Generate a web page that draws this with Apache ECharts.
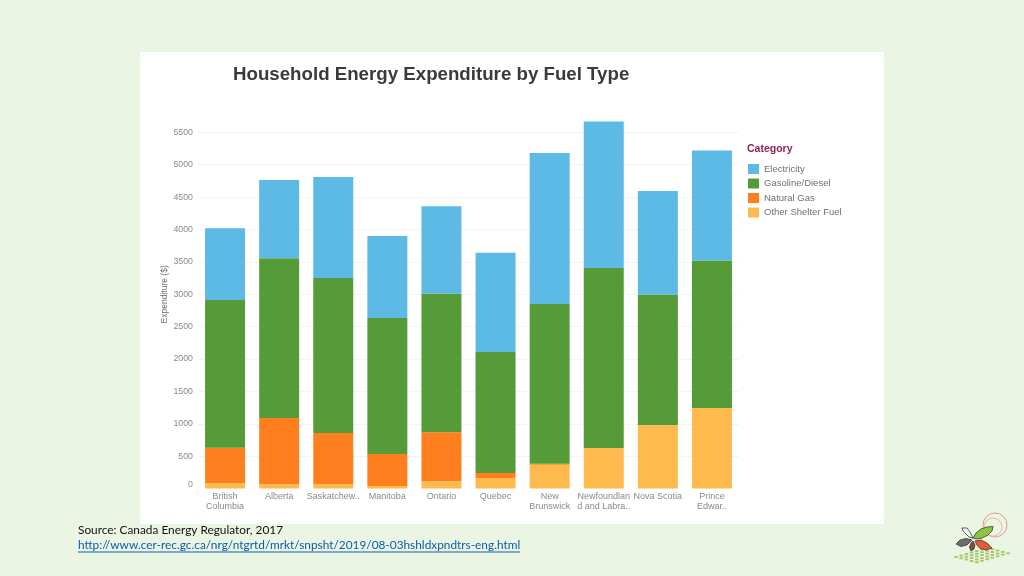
<!DOCTYPE html>
<html>
<head>
<meta charset="utf-8">
<title>Household Energy Expenditure by Fuel Type</title>
<style>
  html, body { margin: 0; padding: 0; background: #EBF5E3; }
  #main { width: 1024px; height: 576px; }
</style>
<script src="https://cdn.jsdelivr.net/npm/echarts@6/dist/echarts.min.js"></script>
</head>
<body>
<div id="main"></div>
<script>
// categories, as cut off in the original chart
var provinces = ['British\nColumbia', 'Alberta', 'Saskatchew..', 'Manitoba', 'Ontario', 'Quebec',
  'New\nBrunswick', 'Newfoundlan\nd and Labra..', 'Nova Scotia', 'Prince\nEdwar..'];

// values ($)
var otherShelterFuel = [86, 66, 71, 40, 113, 163, 369, 622, 977, 1244];
var naturalGas = [545, 1024, 787, 494, 756, 78, 15, 4, 3, 2];
var gasolineDiesel = [2279, 2465, 2392, 2099, 2143, 1867, 2466, 2779, 2016, 2275];
var electricity = [1108, 1209, 1560, 1266, 1345, 1533, 2330, 2262, 1598, 1699];

var legendOrder = ['Electricity', 'Gasoline/Diesel', 'Natural Gas', 'Other Shelter Fuel'];

var chartFont = '"Liberation Sans", Arial, sans-serif';

var barSeries = function(name, data, color) {
  return {
    name: name,
    type: 'bar',
    stack: 'total',
    barWidth: 40,
    itemStyle: { color: color },
    data: data
  };
};

var leaf = function(points, color) {
  return {
    type: 'polygon',
    shape: { points: points },
    style: { fill: color, stroke: '#3A3A3A', lineWidth: 0.8 }
  };
};

//logo: rings, field of dots, then the leaves on top
var logo = [
  { type: 'circle', shape: { cx: 995, cy: 525, r: 12 }, style: { fill: 'none', stroke: '#E29A8C', lineWidth: 1 } },
  { type: 'circle', shape: { cx: 993, cy: 527, r: 9 }, style: { fill: 'none', stroke: '#E8B5A8', lineWidth: 1 } }
];
for (var row = 0; row < 5; row++) {
  for (var col = 0; col < 7; col++) {
    logo.push({
      type: 'rect',
      shape: { x: 954 + row * 5.2 + col * 5.2, y: 556 + row * 1.3 - col * 1.5, width: 4, height: 2, r: 1 },
      style: { fill: '#A9C86B' }
    });
  }
}
logo.push(
  leaf([[973, 538], [976, 533], [981, 529], [987, 527], [993, 526.5], [992, 531], [988, 535], [982, 538], [977, 539]], '#8CC63F'),
  leaf([[973, 538], [970, 532], [967, 528], [962, 528], [963, 531], [966, 534], [969, 537]], '#F3F6E8'),
  leaf([[972, 540], [966, 538.5], [960, 540], [956, 544], [961, 546.5], [967, 545]], '#6B6F6C'),
  leaf([[975, 541], [981, 540], [987, 543], [992, 548], [986, 550], [980, 548.5], [977, 545]], '#E8583A'),
  leaf([[973, 541], [975, 545], [974, 549], [971, 551], [969.5, 547], [971, 543]], '#8A4B3A')
);

var option = {
  animation: false,
  backgroundColor: '#EBF5E3',
  textStyle: { fontFamily: chartFont },
  title: {
    text: 'Household Energy Expenditure by Fuel Type',
    left: 228,
    top: 60,
    textStyle: { fontSize: 18.7, fontWeight: 'bold', color: '#3A3A3C', fontFamily: chartFont }
  },
  grid: { left: 198, width: 541, top: 116.1, height: 372.5 },
  legend: {
    orient: 'vertical',
    left: 743,
    top: 159,
    itemWidth: 11,
    itemHeight: 10,
    itemGap: 4.5,
    icon: 'rect',
    data: legendOrder,
    textStyle: { fontSize: 9.5, color: '#707070', fontFamily: chartFont }
  },
  xAxis: {
    type: 'category',
    data: provinces,
    axisLine: { show: false },
    axisTick: { show: false },
    axisLabel: { interval: 0, fontSize: 9, lineHeight: 10, color: '#8A8A8A', fontFamily: chartFont, margin: 3, hideOverlap: false }
  },
  yAxis: {
    type: 'value',
    min: 0,
    max: 5750,
    interval: 500,
    name: 'Expenditure ($)',
    nameLocation: 'middle',
    nameGap: 29,
    nameMoveOverlap: false,
    nameTextStyle: { fontSize: 8.5, color: '#707070', fontFamily: chartFont, padding: [0, 0, 0, 16] },
    axisLine: { show: false },
    axisTick: { show: false },
    axisLabel: {
      fontSize: 8.8,
      color: '#8A8A8A',
      fontFamily: chartFont,
      margin: 5,
      showMaxLabel: false,
      verticalAlignMinLabel: 'bottom',
      formatter: function(value) {
        return String(value);
      }
    },
    splitLine: { show: true, showMinLine: false, showMaxLine: false, lineStyle: { color: '#F4F4F4', width: 1 } }
  },
  graphic: [
    { type: 'rect', z: -1, silent: true, shape: { x: 140, y: 52, width: 744, height: 472 }, style: { fill: '#FFFFFF' } },
    { type: 'text', x: 747, y: 143.5, style: { text: 'Category', font: 'bold 10.5px "Liberation Sans", Arial, sans-serif', fill: '#8E1F5C' } },
    { type: 'text', x: 78, y: 524, style: { text: 'Source: Canada Energy Regulator, 2017', font: '11.85px Lato, sans-serif', fill: '#111111' } },
    { type: 'text', x: 78, y: 539.5, style: { text: 'http://www.cer-rec.gc.ca/nrg/ntgrtd/mrkt/snpsht/2019/08-03hshldxpndtrs-eng.html', font: '11.85px Lato, sans-serif', fill: '#0B5CAD' } },
    { type: 'line', shape: { x1: 78, y1: 552, x2: 520, y2: 552 }, style: { stroke: '#0B5CAD', lineWidth: 1 } },
    { type: 'group', children: logo }
  ],
  series: [
    barSeries('Other Shelter Fuel', otherShelterFuel, '#FFBA4D'),
    barSeries('Natural Gas', naturalGas, '#FF7F1E'),
    barSeries('Gasoline/Diesel', gasolineDiesel, '#559C38'),
    barSeries('Electricity', electricity, '#5DBAE5')
  ]
};

var myChart = echarts.init(document.getElementById('main'));
myChart.setOption(option);
</script>
</body>
</html>
